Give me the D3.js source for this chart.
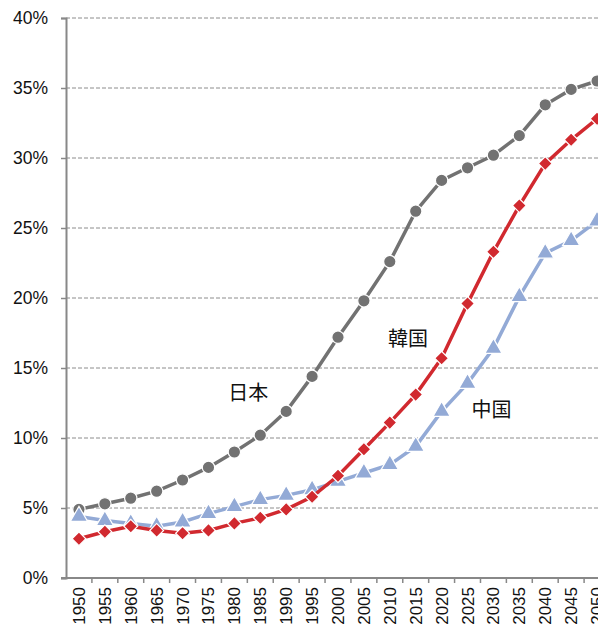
<!DOCTYPE html>
<html>
<head>
<meta charset="utf-8">
<script src="https://cdn.jsdelivr.net/npm/d3@7"></script>
<style>
  body { margin: 0; background: #fff; }
  svg { display: block; font-family: "Liberation Sans", Arial, sans-serif; }
</style>
</head>
<body>
<div class="chart"></div>
<script>
// years on the x axis
const years = [1950, 1955, 1960, 1965, 1970, 1975, 1980, 1985, 1990, 1995, 2000,
               2005, 2010, 2015, 2020, 2025, 2030, 2035, 2040, 2045, 2050];
// share of population aged 65+ (%)
const japan = [4.9, 5.3, 5.7, 6.2, 7.0, 7.9, 9.0, 10.2, 11.9, 14.4, 17.2,
               19.8, 22.6, 26.2, 28.4, 29.3, 30.2, 31.6, 33.8, 34.9, 35.5];
const korea = [2.8, 3.3, 3.7, 3.4, 3.2, 3.4, 3.9, 4.3, 4.9, 5.8, 7.3,
               9.2, 11.1, 13.1, 15.7, 19.6, 23.3, 26.6, 29.6, 31.3, 32.8];
const china = [4.4, 4.1, 3.9, 3.7, 4.0, 4.6, 5.1, 5.6, 5.9, 6.3, 6.9,
               7.5, 8.1, 9.4, 11.9, 13.9, 16.4, 20.1, 23.2, 24.1, 25.5];
const yTicks = [0, 5, 10, 15, 20, 25, 30, 35, 40];

const width = 598, height = 631;
const margin = { top: 18, left: 66, bottom: 53 };
const plotW = 544;   // plot runs past the right edge, as in the original
const plotH = height - margin.top - margin.bottom;

const svg = d3.select(".chart").append("svg")
  .attr("width", width)
  .attr("height", height);

const g = svg.append("g")
  .attr("transform", `translate(${margin.left},${margin.top})`);

const x = d3.scaleBand().domain(years).range([0, plotW]);
const y = d3.scaleLinear().domain([0, 40]).range([plotH, 0]);
const cx = d => x(d) + x.bandwidth() / 2;

// gridlines
g.selectAll(".grid")
  .data(yTicks.filter(t => t > 0))
  .enter().append("line")
  .attr("x1", 0).attr("x2", plotW)
  .attr("y1", d => y(d)).attr("y2", d => y(d))
  .attr("stroke", "#8c8c8c")
  .attr("stroke-width", 1)
  .attr("stroke-dasharray", "4,2");

// y axis
const yAxis = g.append("g")
  .call(d3.axisLeft(y).tickValues(yTicks).tickFormat(d => d + "%").tickSize(5).tickPadding(13));
yAxis.select(".domain").attr("stroke", "#888").attr("stroke-width", 2);
yAxis.selectAll(".tick line").attr("stroke", "#888").attr("stroke-width", 1.5);
yAxis.selectAll("text").attr("font-size", 17.5).attr("fill", "#111");

// x axis: ticks between categories
const xAxis = g.append("g").attr("transform", `translate(0,${plotH})`);
xAxis.append("line")
  .attr("x1", -5).attr("x2", plotW)
  .attr("stroke", "#888").attr("stroke-width", 2);
xAxis.selectAll(".xt")
  .data(years)
  .enter().append("line")
  .attr("x1", d => x(d) + x.bandwidth()).attr("x2", d => x(d) + x.bandwidth())
  .attr("y1", 0).attr("y2", 5)
  .attr("stroke", "#888").attr("stroke-width", 1.5);
xAxis.selectAll(".xl")
  .data(years)
  .enter().append("text")
  .attr("transform", d => `translate(${cx(d) + 6},${9}) rotate(-90)`)
  .attr("text-anchor", "end")
  .attr("font-size", 17)
  .attr("fill", "#111")
  .text(d => d);

const line = d3.line().x((d, i) => cx(years[i])).y(d => y(d));

const series = [
  { name: "japan", values: japan, color: "#727272", shape: d3.symbolCircle, size: 120, rot: 0 },
  { name: "china", values: china, color: "#93aad6", shape: d3.symbolTriangle, size: 130, rot: 0 },
  { name: "korea", values: korea, color: "#d1292f", shape: d3.symbolSquare, size: 95, rot: 45 }
];

series.forEach(s => {
  g.append("path")
    .datum(s.values)
    .attr("fill", "none")
    .attr("stroke", s.color)
    .attr("stroke-width", 3.5)
    .attr("d", line);
  g.selectAll(".m-" + s.name)
    .data(s.values)
    .enter().append("path")
    .attr("transform", (d, i) => `translate(${cx(years[i])},${y(d)}) rotate(${s.rot})`)
    .attr("d", d3.symbol().type(s.shape).size(s.size))
    .attr("fill", s.color)
    .attr("stroke", "#fff")
    .attr("stroke-width", 1.2);
});

// series labels
const labels = [
  { text: "日本", year: 1985, value: 12.7, dx: -12 },
  { text: "韓国", year: 2005, value: 16.6, dx: 44 },
  { text: "中国", year: 2020, value: 11.5, dx: 50 }
];
g.selectAll(".lbl")
  .data(labels)
  .enter().append("text")
  .attr("x", d => cx(d.year) + d.dx)
  .attr("y", d => y(d.value))
  .attr("text-anchor", "middle")
  .attr("font-family", "'Noto Sans CJK JP', sans-serif")
  .attr("font-size", 20)
  .attr("fill", "#111")
  .text(d => d.text);
</script>
</body>
</html>
